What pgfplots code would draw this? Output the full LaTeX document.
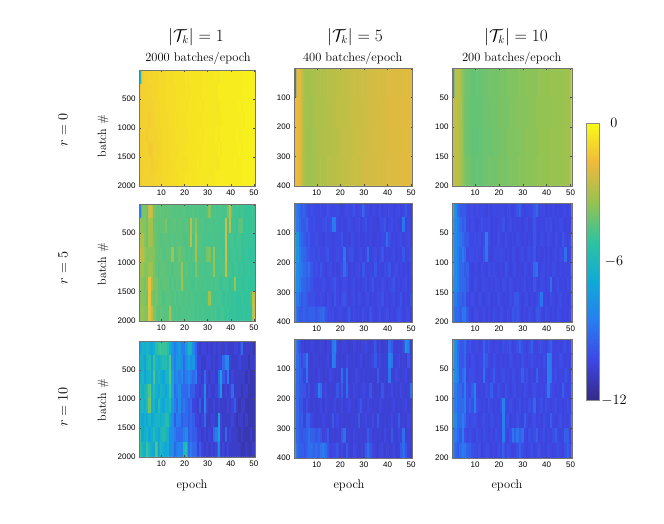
\documentclass[border=0pt]{standalone}
\usepackage{fontspec}
\usepackage{pgfplots}
\pgfplotsset{compat=1.18}
\newfontfamily\hv{Liberation Sans}

% MATLAB parula
\pgfplotsset{colormap={parula}{rgb255=(53,42,135) rgb255=(62,70,228) rgb255=(40,125,240) rgb255=(15,170,215) rgb255=(45,195,160) rgb255=(150,195,80) rgb255=(240,185,60) rgb255=(249,251,21)}}

% cell values, magnitude in tenths (103 means -10.3), top row first, 50 epochs per row
\def\dA{60,12,11,11,10,10,10,10,9,9, 9,8,8,8,8,7,7,7,7,7, 6,6,6,6,6,6,6,5,5,5, 5,5,5,5,5,4,4,4,4,4, 4,4,4,4,4,3,3,3,3,3,%
13,11,11,11,11,10,10,10,9,9, 9,8,8,8,8,8,7,7,7,7, 6,7,6,6,6,6,6,5,5,5, 5,5,5,5,4,4,4,4,4,4, 4,4,4,4,3,3,3,3,3,3,%
12,11,11,11,11,11,10,10,10,9, 9,9,8,8,8,8,7,7,7,6, 7,6,6,6,6,6,5,6,5,5, 5,5,5,5,5,4,4,4,4,4, 4,4,4,3,4,3,3,3,3,3,%
12,11,11,11,12,11,11,10,10,9, 9,9,9,8,8,7,8,7,7,7, 6,6,6,6,6,6,6,5,5,5, 5,5,5,5,5,5,4,4,4,4, 4,4,4,4,3,4,3,3,3,3,%
12,11,11,12,11,11,11,11,10,10, 9,9,9,8,8,8,7,7,7,7, 7,6,6,6,6,6,5,6,5,5, 5,5,5,4,5,4,4,4,4,4, 4,4,3,4,4,3,3,3,3,3,%
12,11,11,11,12,12,11,11,11,10, 9,9,9,8,8,8,8,7,7,7, 6,6,6,6,6,6,6,5,5,5, 5,5,5,5,4,5,4,4,4,4, 4,4,4,3,4,3,3,3,3,3,%
12,11,11,11,11,12,11,11,10,10, 9,9,9,9,8,8,7,7,7,7, 7,6,6,6,6,5,6,5,5,5, 5,5,5,5,5,4,4,4,4,4, 4,3,4,4,3,3,3,3,3,3,%
12,11,11,11,11,11,11,10,10,10, 9,9,9,8,8,8,8,7,7,7, 6,6,6,6,6,6,5,5,5,5, 5,5,5,4,4,4,4,4,4,4, 4,4,4,4,3,3,3,3,3,3}
\def\dB{88,20,20,26,31,32,32,31,31,30, 30,30,29,29,29,28,28,28,27,27, 27,26,26,26,25,25,25,24,24,24, 24,23,23,23,23,22,22,22,22,22, 21,21,21,21,21,21,20,20,20,20,%
19,18,20,26,31,32,33,32,31,30, 30,30,30,29,29,28,28,28,27,27, 27,27,26,26,25,25,25,25,24,24, 24,23,23,23,23,22,22,22,22,22, 21,21,21,21,21,20,20,20,20,20,%
18,18,20,26,31,33,33,32,31,31, 30,30,29,29,29,29,28,28,28,27, 27,26,26,26,26,25,25,24,24,24, 24,23,23,23,22,22,22,22,22,22, 21,21,21,21,21,21,20,20,20,20,%
18,18,20,26,31,32,33,32,32,31, 30,30,30,29,29,28,28,28,27,27, 27,26,26,26,25,25,25,25,24,24, 23,23,23,23,23,22,22,22,22,22, 21,21,21,21,21,20,20,20,20,20}
\def\dC{72,27,28,30,36,39,41,41,42,42, 42,42,41,41,41,40,40,40,40,39, 39,39,39,38,38,38,38,37,37,37, 37,36,36,36,36,36,35,35,35,35, 35,34,34,34,34,34,34,33,33,31,%
27,27,28,30,36,39,41,42,42,43, 42,42,42,41,41,41,40,40,40,39, 39,39,39,39,38,38,38,37,37,37, 37,37,36,36,36,35,35,35,35,35, 35,35,34,34,34,34,34,33,33,31,%
27,27,27,30,35,39,41,42,43,42, 43,42,42,41,41,41,41,40,40,40, 39,39,39,38,38,38,38,38,37,37, 37,36,36,36,36,36,35,35,35,35, 35,34,34,34,34,34,33,33,33,31,%
27,27,28,30,35,38,40,41,42,42, 42,42,42,41,41,40,40,40,40,39, 39,39,39,39,38,38,38,37,37,37, 37,36,36,36,36,35,35,35,35,35, 35,34,34,34,34,34,34,33,33,31}
\def\dD{85,38,38,41,22,24,40,42,43,43, 43,44,43,44,44,45,44,45,45,44, 46,45,46,45,46,45,46,46,46,45, 33,46,46,47,46,47,48,47,40,28, 47,49,48,49,48,49,50,49,50,49,%
34,36,37,41,32,33,41,42,44,43, 43,38,45,44,44,43,45,44,44,45, 44,46,27,44,36,45,46,45,47,46, 46,46,47,46,47,47,47,23,48,27, 48,48,50,44,44,50,49,50,50,49,%
29,30,36,41,32,34,39,42,43,45, 44,44,44,45,44,45,44,44,44,46, 46,45,27,46,30,45,45,47,47,46, 47,46,47,47,46,47,48,22,49,48, 47,50,48,48,50,49,50,50,49,51,%
24,28,33,38,37,37,38,42,43,43, 45,44,44,44,32,46,45,40,44,44, 46,45,46,45,31,46,45,47,46,40, 38,47,34,47,47,46,48,22,48,50, 48,48,50,48,50,51,49,51,51,51,%
33,33,37,38,33,34,39,42,45,43, 43,44,45,44,46,44,44,44,32,46, 44,46,45,47,38,45,47,46,47,47, 46,47,34,47,47,47,46,25,48,48, 50,48,48,50,49,51,50,49,51,51,%
34,37,40,37,16,32,39,39,43,45, 43,43,44,46,44,46,44,45,32,45, 46,45,47,47,45,47,46,47,46,47, 47,46,48,46,47,50,48,48,48,51, 49,32,51,49,51,51,49,51,51,51,%
37,36,38,41,15,38,42,39,43,43, 46,44,44,45,46,44,47,45,45,47, 45,47,45,46,48,47,46,48,48,46, 33,47,48,48,47,48,50,48,50,49, 51,49,51,51,49,51,51,51,48,27,%
37,33,37,38,15,27,38,42,45,43, 44,45,44,30,45,47,45,47,45,46, 47,45,47,46,48,46,48,46,48,48, 48,46,48,48,50,48,48,50,49,51, 51,49,51,51,51,49,51,51,51,25}
\def\dE{80,88,92,97,94,100,102,100,102,103, 103,102,103,103,100,103,103,103,101,103, 104,103,101,103,103,100,104,103,103,92, 103,102,104,103,103,104,102,104,103,104, 102,103,104,103,102,104,103,98,103,104,%
70,86,92,97,97,93,101,102,100,103, 103,103,101,99,103,101,86,87,103,104, 103,104,103,101,103,104,103,101,104,103, 99,104,103,104,104,105,103,101,98,104, 103,100,104,103,104,104,88,104,103,104,%
65,76,90,93,96,100,96,102,102,100, 103,103,104,101,103,103,104,103,102,103, 98,104,103,104,101,103,104,103,104,104, 103,104,103,105,104,103,104,102,103,90, 100,104,103,104,103,101,104,103,101,104,%
60,76,86,92,93,97,98,101,100,102, 100,103,103,101,98,103,104,103,101,103, 103,88,104,101,99,103,104,103,101,104, 103,90,104,103,101,104,103,98,104,103, 104,103,101,104,103,104,98,104,103,101,%
56,80,86,88,92,94,90,98,102,100, 103,98,103,104,103,101,104,103,104,103, 101,90,99,104,103,104,103,101,104,98, 103,104,103,104,98,104,103,104,101,103, 98,104,103,101,104,103,104,103,104,101,%
62,80,86,92,93,97,94,99,102,103, 103,103,101,103,104,103,101,98,103,104, 103,101,103,104,103,101,104,103,104,103, 101,104,103,98,104,103,104,101,103,104, 103,101,98,104,103,104,103,101,104,103,%
66,86,92,97,94,97,101,100,100,103, 103,101,103,104,101,103,104,98,103,104, 101,98,103,104,103,101,104,101,103,104, 103,101,104,103,104,101,103,99,104,103, 104,103,101,104,103,99,104,103,104,99,%
66,92,97,97,94,98,95,94,95,98, 95,94,90,98,103,103,101,104,103,101, 103,104,103,98,104,103,104,103,104,101, 103,104,98,103,104,103,101,104,103,101, 104,103,104,103,99,101,104,103,101,104}
\def\dF{56,80,92,97,97,97,102,103,101,103, 103,103,102,103,104,103,104,102,103,102, 103,102,104,103,103,104,103,98,96,103, 104,103,102,102,98,92,104,103,102,104, 103,104,102,104,103,104,103,102,104,103,%
66,80,86,92,97,93,102,103,101,103, 104,103,99,103,103,101,104,103,104,103, 103,99,104,103,101,104,103,104,103,104, 103,101,104,103,98,103,104,103,104,101, 103,101,104,103,104,101,103,104,103,104,%
66,80,86,88,92,96,97,102,103,101, 103,101,104,101,86,101,104,103,104,101, 103,104,101,103,104,103,104,101,103,104, 103,104,103,104,98,103,104,101,103,104, 101,103,104,101,103,104,98,103,104,101,%
60,80,86,92,86,92,102,100,101,103, 101,103,104,98,88,103,104,103,101,103, 101,103,104,103,104,101,103,104,103,101, 104,103,101,103,98,104,103,104,103,104, 103,104,103,101,104,101,103,90,104,103,%
56,80,86,92,92,97,94,103,104,103, 103,104,101,103,104,101,103,101,103,104, 103,104,99,103,104,103,101,104,103,104, 101,103,104,103,92,90,104,103,101,104, 103,104,101,103,104,103,104,103,104,101,%
70,80,86,92,92,93,97,103,104,101, 103,104,103,101,103,104,103,104,101,103, 104,101,103,104,101,103,104,103,104,103, 101,104,103,104,98,103,104,101,103,104, 103,90,104,103,101,104,103,104,101,103,%
76,86,92,93,97,93,102,103,101,103, 104,101,103,104,103,101,104,103,104,101, 103,104,103,104,101,103,98,98,103,104, 103,101,104,103,104,103,99,88,104,103, 104,101,103,104,103,101,104,103,104,103,%
76,92,93,97,88,88,97,103,104,101, 103,104,103,101,104,103,104,101,103,104, 101,103,104,103,104,98,101,98,103,104, 103,104,101,103,104,98,99,103,104,101, 103,104,103,104,101,103,104,103,104,103}
\def\dG{72,62,66,62,66,70,66,56,50,50, 50,50,56,66,76,86,80,70,86,86, 76,60,66,80,92,104,108,104,104,108, 104,108,104,108,104,108,108,104,108,108, 108,104,104,108,92,108,108,108,108,112,%
62,66,70,62,56,70,50,62,66,62, 56,56,62,45,76,86,76,76,80,92, 80,70,80,76,92,104,104,108,108,104, 104,108,104,108,104,104,92,80,82,104, 108,108,108,104,108,108,108,112,108,108,%
66,62,70,66,62,70,45,66,62,66, 70,62,62,45,70,86,80,86,80,92, 86,80,86,92,86,104,104,108,92,104, 108,104,104,108,92,72,96,104,86,108, 104,108,108,108,108,108,112,108,112,112,%
56,66,62,56,45,66,56,66,70,62, 66,70,66,50,70,92,86,80,92,92, 92,86,96,96,104,104,108,104,80,108, 104,108,108,104,96,76,108,104,108,104, 92,108,108,108,112,108,108,112,112,112,%
62,62,66,56,40,66,62,70,56,66, 70,62,66,56,76,86,92,80,92,86, 92,96,92,104,104,108,96,108,80,104, 108,108,104,108,104,108,108,108,104,108, 104,96,108,112,108,108,112,112,112,112,%
62,70,66,70,62,70,66,62,62,66, 62,56,56,70,80,96,86,86,96,92, 92,96,92,96,104,104,108,104,92,108, 108,104,104,108,70,104,108,108,108,108, 104,108,112,108,108,112,108,112,112,112,%
50,70,66,62,70,66,56,66,70,62, 56,62,66,80,80,86,92,92,92,86, 80,96,92,96,96,104,104,108,104,108, 104,108,92,86,70,104,108,92,108,104, 108,108,108,112,108,112,112,112,108,112,%
50,62,66,50,62,66,70,45,70,62, 66,70,66,80,76,92,86,80,86,62, 56,92,86,92,92,104,96,104,108,104, 108,104,108,104,80,108,104,108,104,108, 108,108,108,108,112,112,108,112,112,108}
\def\dH{70,92,100,105,106,105,106,104,105,106, 105,106,104,107,105,106,88,84,105,106, 105,104,105,107,106,105,106,105,106,105, 103,105,106,105,98,106,105,107,106,107, 90,96,105,106,105,106,100,76,84,105,%
66,90,97,103,98,86,105,106,104,105, 106,105,106,105,103,106,84,88,105,106, 105,106,103,105,106,105,106,105,103,106, 105,106,105,103,97,105,103,106,105,106, 84,88,106,105,103,106,105,106,98,105,%
70,92,96,99,104,88,105,106,105,106, 103,105,106,105,106,103,105,106,105,106, 90,105,90,106,105,106,103,105,106,105, 106,105,106,105,106,97,105,106,105,106, 88,105,106,103,105,106,105,103,106,105,%
76,92,97,99,99,105,100,106,105,103, 84,90,105,103,106,105,106,105,98,105, 97,106,90,105,106,103,105,106,105,103, 105,106,98,105,106,105,106,98,105,106, 105,103,106,105,106,103,105,106,105,88,%
72,92,99,99,105,100,105,106,105,106, 105,103,106,103,105,106,105,103,106,105, 103,106,105,103,106,105,106,103,98,105, 106,103,105,106,105,106,103,105,106,105, 106,105,103,106,105,106,105,103,106,105,%
72,92,99,96,105,94,94,103,105,106, 105,106,103,105,106,105,97,105,103,106, 105,106,105,106,105,106,105,97,106,105, 103,106,105,103,106,97,105,106,105,106, 105,103,106,105,97,106,105,106,103,105,%
72,92,97,99,96,94,90,94,95,99, 95,99,105,103,97,106,105,106,105,106, 97,90,106,105,106,103,105,106,105,106, 105,97,103,106,105,106,105,106,103,105, 106,97,105,106,103,105,90,106,105,106,%
66,92,95,95,99,94,90,90,94,90, 94,90,86,90,99,105,103,103,97,105, 103,106,97,105,106,103,105,106,105,106, 97,90,97,103,105,106,105,103,106,105, 106,105,103,106,105,97,90,99,105,106}
\def\dI{56,80,92,98,98,92,102,99,103,103, 103,104,103,94,103,100,103,104,103,103, 104,100,103,103,100,104,103,100,95,100, 103,104,100,95,103,104,103,100,103,104, 100,95,103,104,103,104,103,100,104,103,%
60,80,90,98,98,92,103,104,100,103, 104,103,103,92,98,103,104,100,103,104, 103,104,103,104,100,103,104,103,104,100, 103,104,103,100,103,104,103,104,100,103, 84,88,104,103,104,100,103,104,103,104,%
60,80,86,98,92,86,103,100,100,103, 104,103,104,88,103,104,103,95,103,104, 103,100,104,103,104,100,103,104,103,95, 103,100,104,103,104,95,103,104,103,104, 84,88,103,100,104,103,104,100,103,104,%
62,86,92,92,98,86,100,103,95,84, 103,104,103,104,100,103,95,103,104,100, 103,104,100,103,104,103,100,104,103,104, 100,103,104,103,100,103,104,103,104,100, 86,100,103,104,103,104,95,103,104,103,%
70,86,92,92,92,86,100,95,100,84, 100,103,104,103,104,100,103,104,103,104, 100,84,103,104,100,103,104,103,100,104, 103,104,100,103,92,104,103,100,104,100, 103,104,103,100,104,103,104,103,100,104,%
70,80,92,92,86,92,100,103,100,100, 103,104,103,100,103,104,100,103,104,103, 104,84,103,100,104,103,104,100,103,104, 95,103,104,103,100,104,103,104,100,103, 104,95,103,104,103,100,104,103,104,100,%
80,86,92,98,86,100,103,100,103,104, 100,103,104,100,103,104,103,104,100,103, 104,86,103,104,100,88,95,88,95,90, 103,104,100,103,100,95,104,103,100,104, 103,104,100,95,103,104,103,95,95,104,%
80,92,98,92,86,88,95,95,100,100, 103,100,104,103,100,103,104,103,104,100, 103,95,104,100,103,104,103,100,95,100, 103,104,103,100,104,103,100,104,103,104, 100,103,104,103,100,103,104,100,95,103}

\newcount\cx \newcount\cy
% #1 list, #2 batches per epoch, #3 rows in the list
\newcommand\heat[3]{%
  \global\cx=0 \global\cy=1 \gdef\buf{}%
  \foreach \v in #1 {%
    \global\advance\cx by 1
    \ifnum\cx>50 \global\cx=1 \global\advance\cy by 1 \fi
    \pgfmathsetmacro\yy{(\the\cy-0.5)*#2/#3}%
    \xdef\buf{\buf (\the\cx,\yy) [-\v]}%
  }%
  \edef\cmd{\noexpand\addplot[matrix plot*,shader=faceted,faceted color=mapped color,line width=0.8pt,mesh/cols=50,point meta=explicit] coordinates {\buf};}\cmd
}

\pgfplotsset{
  cell/.style={scale only axis, enlargelimits=false, axis on top,
    xmin=0.5, xmax=50.5, y dir=reverse,
    xtick={10,20,30,40,50}, tick align=inside, major tick length=1.5pt,
    axis line style={black!55, line width=0.4pt}, tick style={black!70, line width=0.4pt},
    point meta min=-120, point meta max=0,
    tick label style={font=\hv\fontsize{8}{9}\selectfont},
    /pgf/number format/assume math mode=true, /pgf/number format/1000 sep={},
    xticklabel shift=0.5pt, yticklabel shift=0.5pt},
}
% #1 left, #2 bottom, #3 width, #4 height, #5 batches, #6 yticks, #7 list, #8 rows
\newcommand\panel[8]{%
  \begin{axis}[cell, at={(#1pt,#2pt)}, anchor=south west, width=#3pt, height=#4pt,
      ymin=0, ymax=#5, ytick={#6}]
    \heat{#7}{#5}{#8}
  \end{axis}}

\begin{document}
\begin{tikzpicture}[x=1pt,y=1pt]
  \useasboundingbox (0,0) rectangle (664,523);

  \panel{139.5}{337.3}{115.5}{115.7}{2000}{500,1000,1500,2000}{\dA}{8}
  \panel{294.3}{337.3}{118}{117.4}{400}{100,200,300,400}{\dB}{4}
  \panel{452.5}{337.3}{119.2}{117.4}{200}{50,100,150,200}{\dC}{4}

  \panel{139.5}{202.3}{115.5}{116.7}{2000}{500,1000,1500,2000}{\dD}{8}
  \panel{294.3}{201}{118}{119}{400}{100,200,300,400}{\dE}{8}
  \panel{452.5}{201}{119.2}{119}{200}{50,100,150,200}{\dF}{8}

  \panel{139.5}{66.3}{115.5}{115.7}{2000}{500,1000,1500,2000}{\dG}{8}
  \panel{294.3}{65}{118}{119}{400}{100,200,300,400}{\dH}{8}
  \panel{452.5}{65}{119.2}{119}{200}{50,100,150,200}{\dI}{8}

  % colour bar
  \begin{axis}[scale only axis, at={(586pt,123pt)}, anchor=south west, width=13pt, height=277pt,
      enlargelimits=false, axis on top, xmin=0, xmax=1, ymin=-12, ymax=0, xtick=\empty,
      ytick={-12,-6,0}, yticklabels={$-12$,$-6$,$0$}, yticklabel pos=right, major tick length=0pt,
      axis line style={black!45, line width=0.4pt}, point meta min=-12, point meta max=0,
      yticklabel style={font=\fontsize{15}{17}\selectfont, anchor=center, xshift=15pt}]
    \addplot[surf, shader=interp, mesh/cols=2, point meta=y] coordinates {(0,-12) (1,-12) (0,0) (1,0)};
  \end{axis}

  \foreach \x/\t in {196/1, 355/5, 516/10}
    \node[font=\fontsize{16}{18}\selectfont] at (\x,486) {$|\mathcal{T}_k|=\t$};
  \foreach \x/\t in {198/2000, 352.7/400, 511.7/200}
    \node[font=\fontsize{12.5}{14}\selectfont] at (\x,465) {\t\ batches/epoch};
  \foreach \y/\t in {393/0, 255/5, 116/10}
    \node[rotate=90, font=\fontsize{14}{16}\selectfont] at (63,\y) {$r=\t$};
  \foreach \y in {387, 259, 123}
    \node[rotate=90, font=\fontsize{12}{14}\selectfont] at (103,\y) {batch \#};
  \foreach \x in {192, 349, 507}
    \node[font=\fontsize{12.5}{14}\selectfont] at (\x,38) {epoch};
\end{tikzpicture}
\end{document}
